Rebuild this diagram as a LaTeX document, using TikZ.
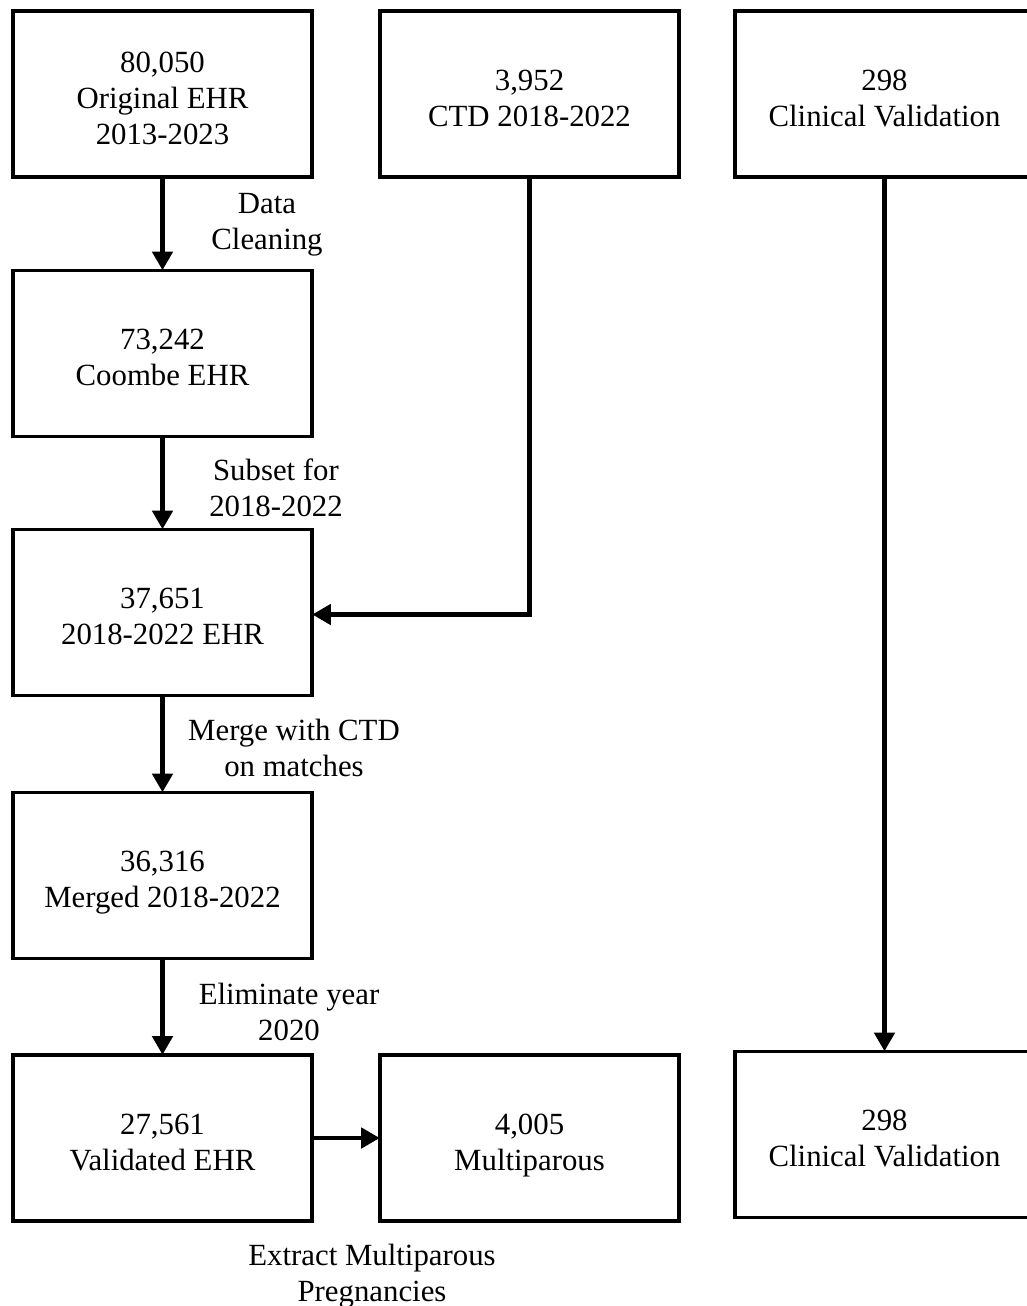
\documentclass[tikz,border=0pt]{standalone}
\usepackage{fontspec}
\setmainfont{Liberation Serif}
\usetikzlibrary{arrows.meta}
\begin{document}
\begin{tikzpicture}[x=0.75pt,y=-0.75pt,
  txt/.style={font=\fontsize{23.1}{27}\selectfont, align=center, inner sep=0pt},
  stage/.style={draw, line width=2.3pt, minimum width=224.25pt, minimum height=124.5pt, inner sep=0pt},
  stagetext/.style={txt, yshift=-7pt, execute at end node=\strut},
  flow/.style={line width=3.6pt, -{Triangle[length=14pt,width=15pt]}, shorten >=-1pt}
]
\useasboundingbox (0,0) rectangle (1027,1306);
\clip (0,0) rectangle (1027,1306);

% left column: EHR processing steps
\node[stage] (orig)   at (162.5,94)    {};
\node[stage] (coombe) at (162.5,353.5) {};
\node[stage] (sub)    at (162.5,612.5) {};
\node[stage] (merged) at (162.5,875.5) {};
\node[stage] (valid)  at (162.5,1138)  {};
\node[stagetext] (origT)   at (orig.center)   {80,050\\Original EHR\\2013-2023};
\node[stagetext] (coombeT) at (coombe.center) {73,242\\Coombe EHR};
\node[stagetext] (subT)    at (sub.center)    {37,651\\2018-2022 EHR};
\node[stagetext] (mergedT) at (merged.center) {36,316\\Merged 2018-2022};
\node[stagetext] (validT)  at (valid.center)  {27,561\\Validated EHR};

% middle column
\node[stage] (ctd)    at (529.5,94)   {};
\node[stage] (multi)  at (529.5,1138) {};
\node[stagetext] (ctdT)   at (ctd.center)   {3,952\\CTD 2018-2022};
\node[stagetext] (multiT) at (multi.center) {4,005\\Multiparous};

% right column
\node[stage] (clinA)  at (884.5,94)     {};
\node[stage] (clinB)  at (884.5,1134.5) {};
\node[stagetext] (clinAT) at (clinA.center) {298\\Clinical Validation};
\node[stagetext] (clinBT) at (clinB.center) {298\\Clinical Validation};

% connectors
\draw[flow] (orig)   -- (coombe);
\draw[flow] (coombe) -- (sub);
\draw[flow] (sub)    -- (merged);
\draw[flow] (merged) -- (valid);
\draw[flow] (valid)  -- (multi);
\draw[flow] (ctd.south) |- ([yshift=-1.5pt]sub.east);
\draw[flow] (clinA)  -- (clinB);

% step labels
\node[txt] (l1) at (267,225)  {Data\\Cleaning};
\node[txt] (l2) at (276,488)  {Subset for\\2018-2022};
\node[txt] (l3) at (294,748)  {Merge with CTD\\on matches};
\node[txt] (l4) at (289,1012) {Eliminate year\\2020};
\node[txt] (l5) at (372,1276) {Extract Multiparous\\Pregnancies};
\end{tikzpicture}
\end{document}
